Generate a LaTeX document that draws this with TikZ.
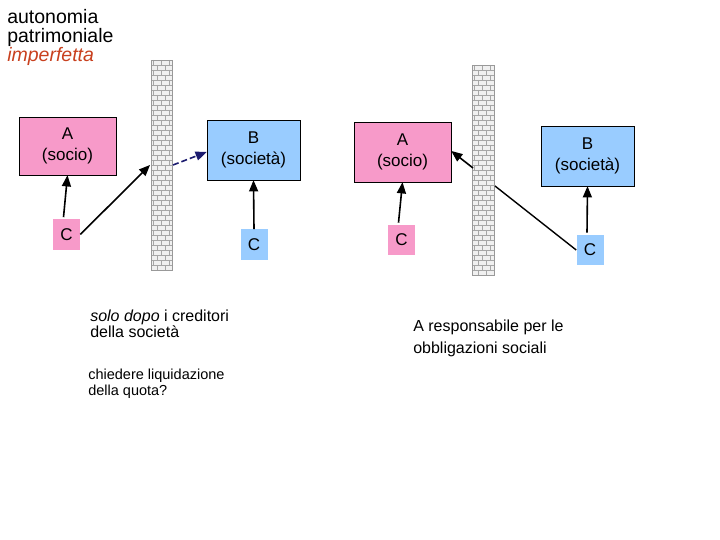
\documentclass[tikz,border=0pt]{standalone}
\usepackage{fontspec}
\setmainfont{Liberation Sans}
\usetikzlibrary{positioning,arrows}
\definecolor{sociopink}{HTML}{F79AC9}
\definecolor{socblue}{HTML}{99CCFF}
\definecolor{titlered}{HTML}{C8401E}
\definecolor{darknavy}{HTML}{1A1A6E}
\newcommand{\brickwall}[4]{% x1 y1 x2 y2
  \fill[gray!12] (#1,#2) rectangle (#3,#4);
  \pgfmathsetmacro{\nrows}{int((#4-#2)/5)}
  \foreach \r in {0,...,\nrows} {
    \draw[gray!70,line width=0.4pt] (#1,#2+\r*5) -- (#3,#2+\r*5);
    \pgfmathsetmacro{\off}{mod(\r,2)*4}
    \foreach \c in {0,8,16} {
      \pgfmathsetmacro{\xx}{#1+\c+\off+2}
      \ifdim\xx pt<#3pt
        \draw[gray!70,line width=0.4pt] (\xx,#2+\r*5) -- (\xx,{min(#2+\r*5+5,#4)});
      \fi
    }
  }
  \draw[gray!80,line width=0.5pt] (#1,#2) rectangle (#3,#4);
}
\begin{document}
\begin{tikzpicture}[x=1pt,y=-1pt,>=triangle 45,semithick,
    box/.style={draw=black,minimum width=#1,align=center,font=\fontsize{17}{21}\selectfont,inner sep=0pt},
    tag/.style={minimum width=27pt,minimum height=30pt,inner sep=0pt,font=\fontsize{17}{19}\selectfont},
    link/.style={->,line width=1.6pt}]
  \useasboundingbox (0,0) rectangle (720,540);
  % title
  \node[anchor=north west,align=left,inner sep=0pt,font=\fontsize{19.5}{19}\selectfont] (title) at (7,9)
    {autonomia\\patrimoniale\\\textcolor{titlered}{\itshape imperfetta}};

  % walls
  \brickwall{151}{60}{172}{270}
  \brickwall{472}{65}{494}{275}
  \coordinate (w1l) at (150,165);
  \coordinate (w1r) at (173,165);
  \coordinate (w2l) at (473,168);
  \coordinate (w2r) at (495,186);

  % left panel
  \node[box=97pt,minimum height=58pt,fill=sociopink] (A1) at (67.5,146) {A\\(socio)};
  \node[box=93pt,minimum height=60pt,fill=socblue] (B1) at (253.5,150) {B\\(società)};
  \node[tag,fill=sociopink] (C1) at (66.5,234.5) {C};
  \node[tag,fill=socblue] (C2) at (254,244.5) {C};
  \draw[link] (C1.north) ++(-3,-2) -- (A1.south);
  \draw[link] (C1.east) -- (w1l);
  \draw[link,darknavy,dash pattern=on 6pt off 3pt] (w1r) -- ([yshift=-2pt]B1.west);
  \draw[link] (C2.north) -- (B1.south);

  % right panel
  \node[box=97pt,minimum height=60pt,fill=sociopink] (A2) at (402.5,152) {A\\(socio)};
  \node[box=93pt,minimum height=60pt,fill=socblue] (B2) at (587.5,156) {B\\(società)};
  \node[tag,fill=sociopink] (C3) at (401.5,240) {C};
  \node[tag,fill=socblue] (C4) at (590,250) {C};
  \draw[link] (C3.north) ++(-3,-2) -- (A2.south);
  \draw[link] (w2l) -- ([yshift=1pt]A2.east);
  \draw[line width=1.4pt] (C4.west) -- (w2r);
  \draw[link] (C4.north) ++(-3,-2) -- (B2.south);

  % notes
  \node[anchor=north west,align=left,inner sep=0pt,font=\fontsize{16}{15}\selectfont] (n1) at (90,310)
    {\textit{solo dopo} i creditori\\della società};
  \node[anchor=north west,align=left,inner sep=0pt,font=\fontsize{14.5}{16}\selectfont] (n2) at (88,369)
    {chiedere liquidazione\\della quota?};
  \node[anchor=north west,align=left,inner sep=0pt,font=\fontsize{16}{22}\selectfont] (n3) at (413,320)
    {A responsabile per le\\obbligazioni sociali};
\end{tikzpicture}
\end{document}
